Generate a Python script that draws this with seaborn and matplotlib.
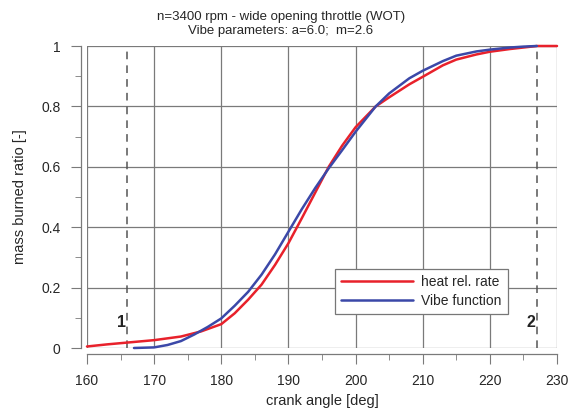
import numpy as np
import pandas as pd
import matplotlib
matplotlib.use("Agg")
import matplotlib.pyplot as plt
import seaborn as sns

# crank angle [deg] and mass burned ratio
heat_angle = [160, 163, 166, 170, 174, 177, 180, 182, 184, 186, 188, 190, 192, 194,
              196, 198, 200, 203, 205, 208, 210, 213, 215, 218, 220, 223, 225, 227, 230]
heat_mbr = [0.005, 0.012, 0.018, 0.026, 0.038, 0.055, 0.079, 0.115, 0.16, 0.21, 0.275,
            0.347, 0.43, 0.515, 0.60, 0.67, 0.731, 0.80, 0.83, 0.873, 0.898, 0.936,
            0.955, 0.972, 0.981, 0.99, 0.995, 1.0, 1.0]

vibe_angle = [167, 170, 172, 174, 176, 178, 180, 182, 184, 186, 188, 190, 192, 194,
              196, 198, 200, 203, 205, 208, 210, 213, 215, 218, 220, 223, 225, 227]
vibe_mbr = [0.0, 0.002, 0.01, 0.023, 0.045, 0.07, 0.098, 0.14, 0.186, 0.243, 0.31, 0.385,
            0.46, 0.53, 0.595, 0.655, 0.716, 0.80, 0.843, 0.893, 0.918, 0.95, 0.968,
            0.982, 0.988, 0.995, 0.998, 1.0]

soc_eoc = [166, 227]
soc_eoc_labels = ["1", "2"]

sns.set_style("ticks")
plt.rcParams["font.family"] = ["Liberation Sans", "DejaVu Sans"]

df = pd.concat([
    pd.DataFrame({"angle": heat_angle, "mbr": heat_mbr, "curve": "heat rel. rate"}),
    pd.DataFrame({"angle": vibe_angle, "mbr": vibe_mbr, "curve": "Vibe function"}),
])

fig = plt.figure(figsize=(5.73, 4.16), dpi=100)
ax = fig.add_axes([87 / 573, 1 - 348 / 416, 470 / 573, 302 / 416])

sns.lineplot(data=df, x="angle", y="mbr", hue="curve",
             palette={"heat rel. rate": "#e8212b", "Vibe function": "#3b48a8"},
             linewidth=1.8, ax=ax, legend=True, zorder=3)
for line in ax.lines:
    line.set_clip_on(False)
    line.set_solid_joinstyle("round")

for xv, lab in zip(soc_eoc, soc_eoc_labels):
    ax.axvline(xv, color="#555555", lw=1.1, ls=(0, (5, 4)), zorder=2)
    ax.text(xv - 0.9, 0.086, lab, ha="center", va="center", fontsize=11.5,
            fontweight="bold", color="#222222")

ax.set_xlim(160, 230)
ax.set_ylim(0, 1)
ax.set_xticks(np.arange(160, 231, 10))
ax.set_xticks(np.arange(165, 230, 10), minor=True)
ax.set_yticks([0, 0.2, 0.4, 0.6, 0.8, 1.0])
ax.set_yticklabels(["0", "0.2", "0.4", "0.6", "0.8", "1"])
ax.set_yticks([0.1, 0.3, 0.5, 0.7, 0.9], minor=True)
ax.grid(True, which="major", color="#7a7a7a", lw=0.9)
ax.tick_params(which="major", length=7, color="#7a7a7a", labelsize=10, pad=8)
ax.tick_params(which="minor", length=4, color="#7a7a7a")

sns.despine(ax=ax, offset=4)
for s in ["left", "bottom"]:
    ax.spines[s].set_color("#7a7a7a")
    ax.spines[s].set_linewidth(0.9)
ax.spines["left"].set_bounds(0, 1)
ax.spines["bottom"].set_bounds(160, 230)

ax.set_xlabel("crank angle [deg]", fontsize=10.5, labelpad=4)
ax.set_ylabel("mass burned ratio [-]", fontsize=10.5, labelpad=10)

leg = ax.legend(loc="lower left", bbox_to_anchor=(0.528, 0.113, 0.368, 0.162),
                mode="expand", fontsize=10, handlelength=5.2, frameon=True,
                fancybox=False, borderaxespad=0, handletextpad=0.6,
                labelspacing=0.4)
leg.get_frame().set_edgecolor("#777777")
leg.get_frame().set_linewidth(0.9)
leg.get_frame().set_alpha(1)

fig.text(0.49, 0.958, "n=3400 rpm - wide opening throttle (WOT)", ha="center",
         va="center", fontsize=9.5)
fig.text(0.49, 0.925, "Vibe parameters: a=6.0;  m=2.6", ha="center",
         va="center", fontsize=9.5)

fig.savefig("out.png", dpi=100)
